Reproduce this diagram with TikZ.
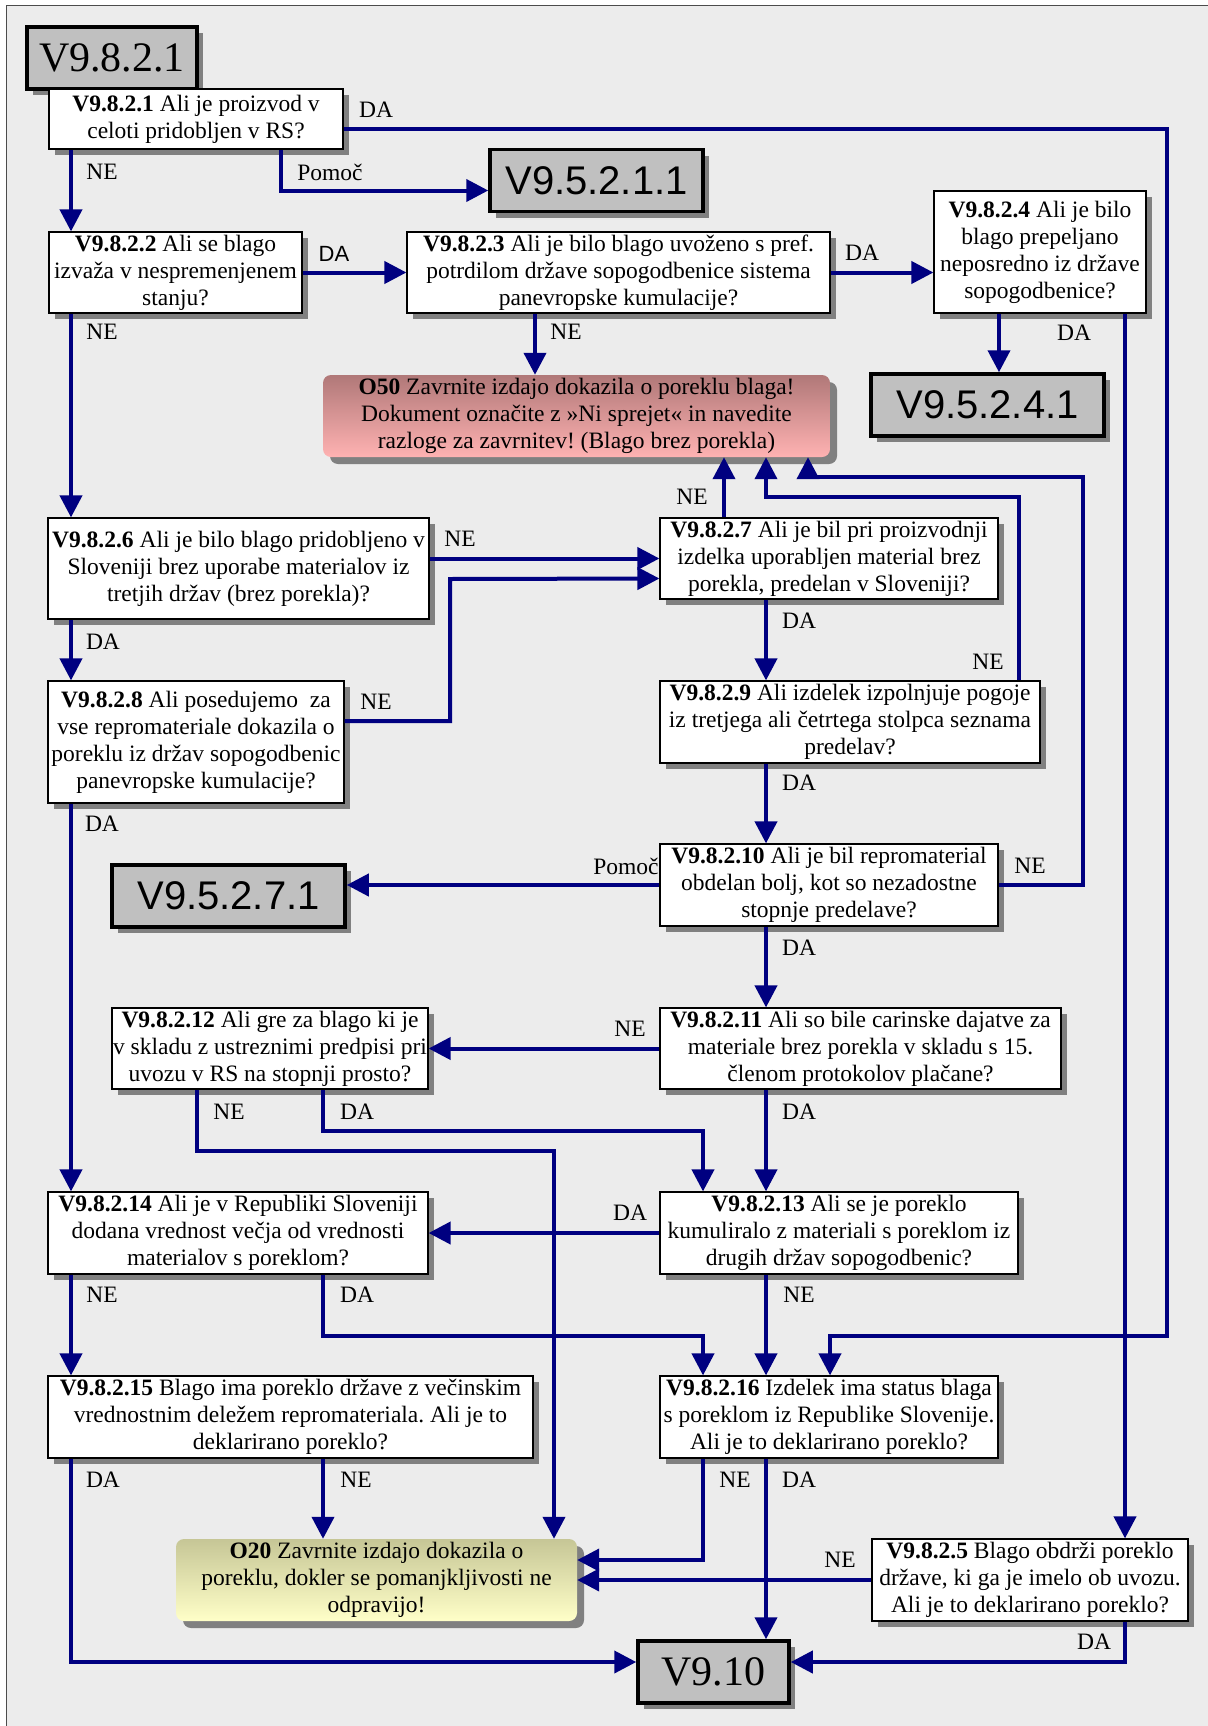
\documentclass[tikz,border=0pt]{standalone}
\usepackage{fontspec}
\setmainfont{Liberation Serif}
\newfontfamily\arialfont{Liberation Sans}
\usetikzlibrary{arrows.meta,shadows}
\frenchspacing

\definecolor{flowblue}{RGB}{0,0,128}
\definecolor{paneback}{RGB}{236,236,236}
\definecolor{refgray}{RGB}{192,192,192}

\begin{document}
\begin{tikzpicture}[x=1pt,y=-1pt,>={Triangle[length=22pt,width=22pt]},
 font=\fontsize{23.5}{27}\selectfont,
 q/.style={draw,line width=1.2pt,fill=white,align=center,inner sep=0pt,
   drop shadow={shadow xshift=6pt,shadow yshift=-6pt,fill=black!50,opacity=1}},
 ref/.style={draw,line width=3.5pt,fill=refgray,inner sep=0pt,minimum height=62pt,
   drop shadow={shadow xshift=6pt,shadow yshift=-6pt,fill=black!50,opacity=1}},
 fin/.style={rounded corners=8pt,align=center,inner sep=0pt,minimum height=82pt,
   drop shadow={shadow xshift=7pt,shadow yshift=-7pt,fill=black!50,opacity=1}},
 flow/.style={->,draw=flowblue,line width=4pt},
 lbl/.style={inner sep=0pt}]
\useasboundingbox (0,0) rectangle (1207,1726);
\draw[fill=paneback,draw=black!70,line width=1pt] (6,6) rectangle (1212,1731);
% reference boxes
\node[ref,minimum width=170pt,font=\fontsize{42}{42}\selectfont] (h1) at (112,58) {V9.8.2.1};
\node[ref,minimum width=213pt,font=\arialfont\fontsize{40}{40}\selectfont] (h2) at (596.5,180.5) {V9.5.2.1.1};
\node[ref,minimum width=233pt,font=\arialfont\fontsize{40}{40}\selectfont] (h3) at (987.5,405) {V9.5.2.4.1};
\node[ref,minimum width=233pt,font=\arialfont\fontsize{40}{40}\selectfont] (h4) at (228.5,896) {V9.5.2.7.1};
\node[ref,minimum width=151pt,font=\fontsize{42}{42}\selectfont] (V910) at (713.5,1672) {V9.10};
% questions
\node[q,minimum width=294pt,minimum height=60pt] (q1) at (196,119) {\textbf{V9.8.2.1} Ali je proizvod v\\celoti pridobljen v RS?};
\node[q,minimum width=253pt,minimum height=81pt] (q2) at (175.5,272.5) {\textbf{V9.8.2.2} Ali se blago\\izvaža v nespremenjenem\\stanju?};
\node[q,minimum width=423pt,minimum height=81pt] (q3) at (618.5,272.5) {\textbf{V9.8.2.3} Ali je bilo blago uvoženo s pref.\\potrdilom države sopogodbenice sistema\\panevropske kumulacije?};
\node[q,minimum width=212pt,minimum height=122pt] (q4) at (1040,252) {\textbf{V9.8.2.4} Ali je bilo\\blago prepeljano\\neposredno iz države\\sopogodbenice?};
\node[q,minimum width=381pt,minimum height=101pt] (q6) at (238.5,568.5) {\textbf{V9.8.2.6} Ali je bilo blago pridobljeno v\\Sloveniji brez uporabe materialov iz\\tretjih držav (brez porekla)?};
\node[q,minimum width=338pt,minimum height=81pt] (q7) at (829,558.5) {\textbf{V9.8.2.7} Ali je bil pri proizvodnji\\izdelka uporabljen material brez\\porekla, predelan v Sloveniji?};
\node[q,minimum width=296pt,minimum height=122pt] (q8) at (196,742) {\textbf{V9.8.2.8} Ali posedujemo\ \ za\\vse repromateriale dokazila o\\poreklu iz držav sopogodbenic\\panevropske kumulacije?};
\node[q,minimum width=380pt,minimum height=82pt] (q9) at (850,722) {\textbf{V9.8.2.9} Ali izdelek izpolnjuje pogoje\\iz tretjega ali četrtega stolpca seznama\\predelav?};
\node[q,minimum width=338pt,minimum height=82pt] (q10) at (829,885) {\textbf{V9.8.2.10} Ali je bil repromaterial\\obdelan bolj, kot so nezadostne\\stopnje predelave?};
\node[q,minimum width=401pt,minimum height=81pt] (q11) at (860.5,1048.5) {\textbf{V9.8.2.11} Ali so bile carinske dajatve za\\materiale brez porekla v skladu s 15.\\členom protokolov plačane?};
\node[q,minimum width=316pt,minimum height=81pt] (q12) at (270,1048.5) {\textbf{V9.8.2.12} Ali gre za blago ki je\\v skladu z ustreznimi predpisi pri\\uvozu v RS na stopnji prosto?};
\node[q,minimum width=358pt,minimum height=82pt] (q13) at (839,1233) {\textbf{V9.8.2.13} Ali se je poreklo\\kumuliralo z materiali s poreklom iz\\drugih držav sopogodbenic?};
\node[q,minimum width=380pt,minimum height=82pt] (q14) at (238,1233) {\textbf{V9.8.2.14} Ali je v Republiki Sloveniji\\dodana vrednost večja od vrednosti\\materialov s poreklom?};
\node[q,minimum width=485pt,minimum height=82pt] (q15) at (290.5,1417) {\textbf{V9.8.2.15} Blago ima poreklo države z večinskim\\vrednostnim deležem repromateriala. Ali je to\\deklarirano poreklo?};
\node[q,minimum width=338pt,minimum height=82pt] (q16) at (829,1417) {\textbf{V9.8.2.16} Izdelek ima status blaga\\s poreklom iz Republike Slovenije.\\Ali je to deklarirano poreklo?};
\node[q,minimum width=316pt,minimum height=82pt] (q5) at (1030,1580) {\textbf{V9.8.2.5} Blago obdrži poreklo\\države, ki ga je imelo ob uvozu.\\Ali je to deklarirano poreklo?};
% end states
\node[fin,minimum width=507pt,top color={rgb,255:red,176;green,120;blue,120},bottom color={rgb,255:red,255;green,178;blue,178}] (O50) at (576.5,416) {\textbf{O50} Zavrnite izdajo dokazila o poreklu blaga!\\Dokument označite z »Ni sprejet« in navedite\\razloge za zavrnitev! (Blago brez porekla)};
\node[fin,minimum width=401pt,top color={rgb,255:red,198;green,198;blue,150},bottom color={rgb,255:red,255;green,255;blue,200}] (O20) at (376.5,1580) {\textbf{O20} Zavrnite izdajo dokazila o\\poreklu, dokler se pomanjkljivosti ne\\odpravijo!};
% connectors
\draw[flow] (q1.south -| 71,0) -- (q2.north -| 71,0);
\draw[flow] (q1.south -| 281,0) |- ([yshift=-10pt]h2.west);
\draw[flow] ([yshift=-10pt]q1.east) -| (1167,1336) -| (q16.north -| 830,0);
\draw[flow] (q2.east) -- (q3.west);
\draw[flow] (q2.south -| 71,0) -- (q6.north -| 71,0);
\draw[flow] (q3.east) -- (q4.west |- q3.east);
\draw[flow] (q3.south -| 535,0) -- (O50.north -| 535,0);
\draw[flow] (q4.south -| 999,0) -- (h3.north -| 999,0);
\draw[flow] (q4.south -| 1125,0) -- (q5.north -| 1125,0);
\draw[flow] (q6.east |- q7.west) -- (q7.west);
\draw[flow] (q6.south -| 71,0) -- (q8.north -| 71,0);
\draw[flow] ([yshift=21pt]q8.east) -| (450,579) -- ([yshift=-20pt]q7.west);
\draw[flow] (q7.north -| 724,0) -- (O50.south -| 724,0);
\draw[flow] (q7.south -| 766,0) -- (q9.north -| 766,0);
\draw[flow] (q9.north -| 1019,0) |- (766,497) -- (O50.south -| 766,0);
\draw[flow] (q9.south -| 766,0) -- (q10.north -| 766,0);
\draw[flow] (q10.east) -| (1083,477) -| (O50.south -| 808,0);
\draw[flow] (q10.west) -- (h4.east |- q10.west);
\draw[flow] (q10.south -| 766,0) -- (q11.north -| 766,0);
\draw[flow] (q8.south -| 71,0) -- (q14.north -| 71,0);
\draw[flow] (q11.west) -- (q12.east);
\draw[flow] (q12.south -| 197,0) |- (554,1151) -- (O20.north -| 554,0);
\draw[flow] (q12.south -| 323,0) |- (703,1131) -- (q13.north -| 703,0);
\draw[flow] (q11.south -| 766,0) -- (q13.north -| 766,0);
\draw[flow] (q13.west) -- (q14.east);
\draw[flow] (q14.south -| 71,0) -- (q15.north -| 71,0);
\draw[flow] (q14.south -| 323,0) |- (703,1336) -- (q16.north -| 703,0);
\draw[flow] (q13.south -| 766,0) -- (q16.north -| 766,0);
\draw[flow] (q15.south -| 71,0) |- ([yshift=10pt]V910.west);
\draw[flow] (q15.south -| 323,0) -- (O20.north -| 323,0);
\draw[flow] (q16.south -| 703,0) |- ([yshift=20pt]O20.east);
\draw[flow] (q16.south -| 766,0) -- (V910.north -| 766,0);
\draw[flow] (q5.west) -- (O20.east |- q5.west);
\draw[flow] (q5.south -| 1125,0) |- ([yshift=10pt]V910.east);
% labels
\node[lbl] (l1) at (376,110) {DA};
\node[lbl] (l2) at (102,172) {NE};
\node[lbl] (l3) at (330,172) {Pomoč};
\node[lbl,font=\arialfont\fontsize{22}{22}\selectfont] (l4) at (334,254) {DA};
\node[lbl] (l5) at (102,332) {NE};
\node[lbl] (l6) at (862,253) {DA};
\node[lbl] (l7) at (566,332) {NE};
\node[lbl] (l8) at (1074,333) {DA};
\node[lbl] (l9) at (692,497) {NE};
\node[lbl] (l10) at (460,539) {NE};
\node[lbl] (l11) at (103,642) {DA};
\node[lbl] (l12) at (376,702) {NE};
\node[lbl] (l13) at (799,621) {DA};
\node[lbl] (l14) at (988,662) {NE};
\node[lbl] (l15) at (799,783) {DA};
\node[lbl] (l16) at (626,866) {Pomoč};
\node[lbl] (l17) at (1030,866) {NE};
\node[lbl] (l18) at (102,824) {DA};
\node[lbl] (l19) at (799,948) {DA};
\node[lbl] (l20) at (630,1029) {NE};
\node[lbl] (l21) at (229,1112) {NE};
\node[lbl] (l22) at (357,1112) {DA};
\node[lbl] (l23) at (799,1112) {DA};
\node[lbl] (l24) at (630,1213) {DA};
\node[lbl] (l25) at (102,1295) {NE};
\node[lbl] (l26) at (357,1295) {DA};
\node[lbl] (l27) at (799,1295) {NE};
\node[lbl] (l28) at (103,1480) {DA};
\node[lbl] (l29) at (356,1480) {NE};
\node[lbl] (l30) at (735,1480) {NE};
\node[lbl] (l31) at (799,1480) {DA};
\node[lbl] (l32) at (840,1560) {NE};
\node[lbl] (l33) at (1094,1642) {DA};
\end{tikzpicture}
\end{document}
